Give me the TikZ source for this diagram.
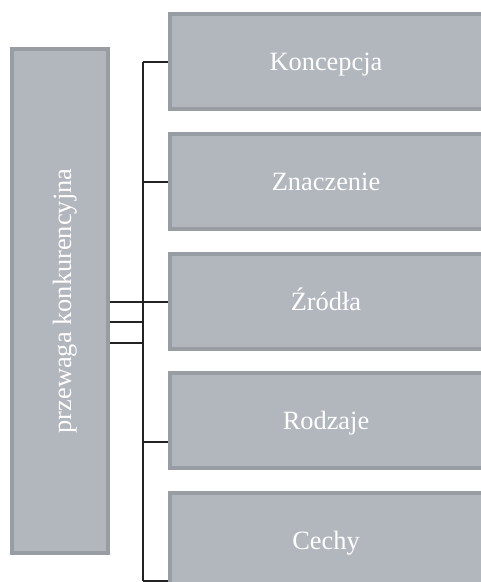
\documentclass[tikz,border=0pt]{standalone}
\usepackage{fontspec}
\setmainfont{Liberation Serif}
\definecolor{boxfill}{RGB}{178,183,190}
\definecolor{boxedge}{RGB}{152,157,164}
\definecolor{wire}{RGB}{34,34,34}
\tikzset{
  topic/.style={draw=boxedge, fill=boxfill, line width=4pt, inner sep=0pt,
    minimum width=340pt, minimum height=95pt},
  topictext/.style={text=white, font=\fontsize{26.4}{30}\selectfont,
    inner sep=0pt, text height=18pt, text depth=0pt},
  mainbox/.style={draw=boxedge, fill=boxfill, line width=4pt, inner sep=0pt,
    minimum width=96pt, minimum height=504pt},
  link/.style={draw=wire, line width=2pt}
}
\begin{document}
\begin{tikzpicture}[x=1pt, y=-1pt]
  \useasboundingbox (0,0) rectangle (481,582);
  \clip (0,0) rectangle (481,582);

  % main box with rotated title
  \node[mainbox] (main) at (60,301) {};
  \node[topictext, rotate=90] (title) at ([xshift=2pt]main.center) {przewaga konkurencyjna};

  % topic boxes on the right (they run past the right edge)
  \node[topic] (k) at (340,61)    {};
  \node[topic] (z) at (340,181)   {};
  \node[topic] (s) at (340,301.5) {};
  \node[topic] (r) at (340,420.5) {};
  \node[topic] (c) at (340,540)   {};
  \node[topictext] (kt) at ([xshift=-14pt]k.center) {Koncepcja};
  \node[topictext] (zt) at ([xshift=-14pt]z.center) {Znaczenie};
  \node[topictext] (st) at ([xshift=-14pt]s.center) {Źródła};
  \node[topictext] (rt) at ([xshift=-14pt]r.center) {Rodzaje};
  \node[topictext] (ct) at ([xshift=-14pt]c.center) {Cechy};

  % vertical bus
  \coordinate (bustop) at (143,62);
  \coordinate (busbot) at (143,581);
  \coordinate (b2) at (143,182);
  \coordinate (b3) at (143,302);
  \coordinate (b3a) at (143,322);
  \coordinate (b3b) at (143,343);
  \coordinate (b4) at (143,442);

  \draw[link] (bustop) -- (busbot);
  \draw[link] (bustop) -- (k.west |- bustop);
  \draw[link] (b2) -- (z.west |- b2);
  \draw[link] (main.east |- b3) -- (s.west |- b3);
  \draw[link] (main.east |- b3a) -- (b3a);
  \draw[link] (main.east |- b3b) -- (b3b);
  \draw[link] (b4) -- (r.west |- b4);
  \draw[link] (busbot) -- (c.west |- busbot);
\end{tikzpicture}
\end{document}
